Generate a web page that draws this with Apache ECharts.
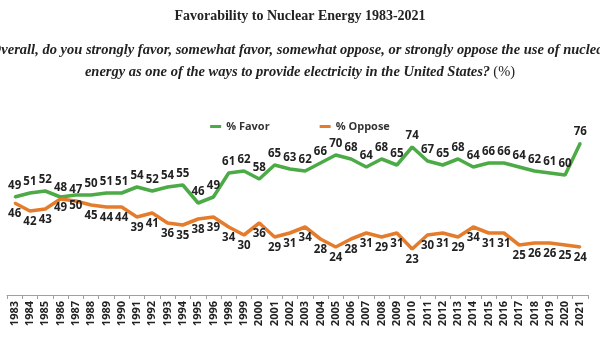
<!DOCTYPE html>
<html><head><meta charset="utf-8">
<script src="https://cdn.jsdelivr.net/npm/echarts@6/dist/echarts.min.js"></script>
<style>html,body{margin:0;padding:0;background:#fff}#c{width:600px;height:338px}</style>
</head><body><div id="c"></div>
<script>
const years = ['1983','1984','1985','1986','1987','1988','1989','1990','1991','1992','1993','1994','1995','1996','1998','1999','2000','2001','2002','2003','2004','2005','2006','2007','2008','2009','2010','2011','2012','2013','2014','2015','2016','2017','2018','2019','2020','2021'];
const favor = [49,51,52,49,50,50,51,51,54,52,54,55,46,49,61,62,58,65,63,62,66,70,68,64,68,65,74,67,65,68,64,66,66,64,62,61,60,76];
const oppose = [46,42,43,48,47,45,44,44,39,41,36,35,38,39,34,30,36,29,31,34,28,24,28,31,29,31,23,30,31,29,34,31,31,25,26,26,25,24];
const favorBelow = ['1986','1987'];
const opposeAbove = ['1986','1987'];

const lblFont = {fontFamily:'Open Sans', fontWeight:'bold', fontSize:11.5, color:'#222'};
function mk(vals, yrs, flipSet, defPos, altPos) {
  return vals.map((v,i)=>({value:v, label:{show:true, position: flipSet.includes(yrs[i]) ? altPos : defPos}}));
}
const chart = echarts.init(document.getElementById('c'));
chart.setOption({
  animation:false,
  title:{text:'Favorability to Nuclear Energy 1983-2021', left:'center', top:4,
     textStyle:{fontFamily:'Liberation Serif', fontWeight:'bold', fontSize:14, color:'#222'}},
  graphic:[
    {type:'text', x:300, y:50, style:{text:'Overall, do you strongly favor, somewhat favor, somewhat oppose, or strongly oppose the use of nuclear',
      align:'center', verticalAlign:'middle', font:'italic bold 14.5px "Liberation Serif"', fill:'#222'}},
    {type:'text', x:300, y:72, style:{text:'{i|energy as one of the ways to provide electricity in the United States?} {n|(%)}',
      align:'center', verticalAlign:'middle',
      rich:{i:{fontFamily:'Liberation Serif', fontStyle:'italic', fontWeight:'bold', fontSize:14.5, fill:'#222'},
            n:{fontFamily:'Liberation Serif', fontSize:14.5, fill:'#222'}}}}
  ],
  legend:{top:116, left:'center', itemGap:50, icon:'rect', itemWidth:11, itemHeight:3,
    textStyle:{fontFamily:'Open Sans', fontWeight:'bold', fontSize:11, color:'#333'},
    data:['% Favor','% Oppose']},
  grid:{left:7, right:12, top:95, bottom:43},
  xAxis:{type:'category', data:years, boundaryGap:true,
    axisLine:{lineStyle:{color:'#a0a0a0', width:1}},
    axisTick:{show:true, length:4, lineStyle:{color:'#a0a0a0'}},
    axisLabel:{rotate:90, interval:0, fontFamily:'Open Sans', fontWeight:'bold', fontSize:11, color:'#222', margin:6}},
  yAxis:{type:'value', min:0, max:100, show:false, splitLine:{show:false}},
  series:[
    {name:'% Favor', type:'line', data:mk(favor, years, favorBelow, 'top','bottom'), symbol:'circle', symbolSize:2, showSymbol:true, showAllSymbol:true, color:'#4caa47',
     lineStyle:{width:3.5, color:'#4caa47'}, itemStyle:{color:'#4caa47'}, label:{show:true, distance:4, ...lblFont}, labelLayout:{hideOverlap:false}},
    {name:'% Oppose', type:'line', data:mk(oppose, years, opposeAbove, 'bottom','top'), symbol:'circle', symbolSize:2, showSymbol:true, showAllSymbol:true, color:'#e57c2c',
     lineStyle:{width:3.5, color:'#e57c2c'}, itemStyle:{color:'#e57c2c'}, label:{show:true, distance:4, ...lblFont}, labelLayout:{hideOverlap:false}}
  ]
});
</script></body></html>
